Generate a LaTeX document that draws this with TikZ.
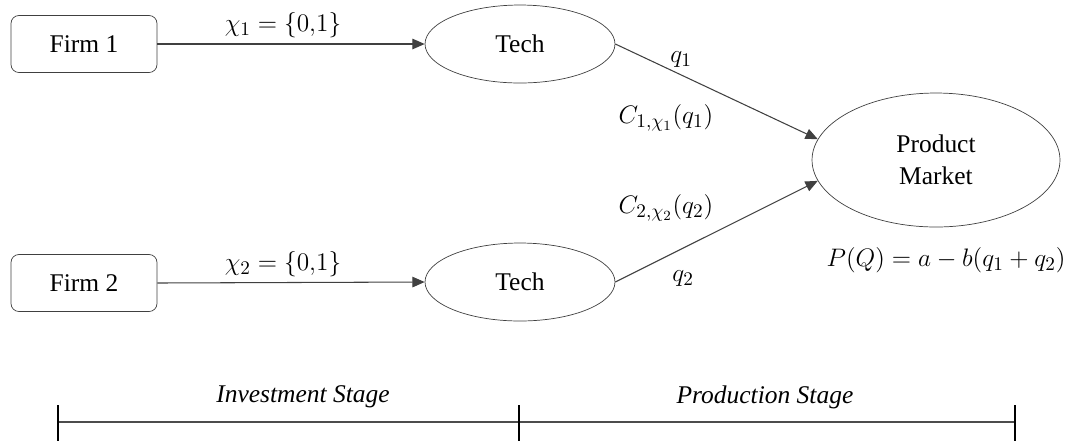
\documentclass[tikz,border=0pt]{standalone}
\usepackage{amsmath}
\usepackage{fontspec}
\setmainfont{Liberation Serif}
\usetikzlibrary{arrows.meta,positioning,shapes.geometric}
\newcommand{\xc}[1]{\chi_{#1}}
\tikzset{
  firmbox/.style={draw=black!75, rounded corners=4.5pt, minimum width=2.92cm, minimum height=1.14cm, inner sep=0pt, font=\fontsize{14.5}{17}\selectfont},
  techell/.style={ellipse, draw=black!75, minimum width=3.8cm, minimum height=1.56cm, inner sep=0pt, font=\fontsize{14.5}{17}\selectfont},
  mktell/.style={ellipse, draw=black!75, minimum width=4.96cm, minimum height=2.68cm, inner sep=0pt, align=center, font=\fontsize{14.5}{17}\selectfont},
  lbl/.style={inner sep=1pt, font=\fontsize{15.2}{18}\selectfont},
  stg/.style={inner sep=1pt, font=\fontsize{14.5}{17}\selectfont\itshape},
  flow/.style={draw=black!75, line width=0.6pt, -{Triangle[length=7pt,width=6pt]}},
}

\begin{document}
\begin{tikzpicture}[x=0.02cm, y=-0.02cm]
  \useasboundingbox (0,0) rectangle (1085,441);

  %% --- firms and technologies ---
  \node[firmbox] (firm1) at (84,44) {Firm 1};
  \node[firmbox] (firm2) at (84,283) {Firm 2};
  \node[techell] (tech1) at (520,44) {Tech};
  \node[techell] (tech2) at (520,282) {Tech};
  \node[mktell] (market) at (936,160) {Product\\[1.5pt]Market};

  % investment choices
  \draw[flow] (firm1.east) -- (tech1.west);
  \draw[flow] (firm2.east) -- (tech2.west);
  \node[lbl] (chi1) at (283,25) {$\xc{1} = \{0{,}1\}$};
  \node[lbl] (chi2) at (283,264) {$\xc{2} = \{0{,}1\}$};

  % quantities into the market
  \draw[flow] (tech1.east) -- (market.170);
  \draw[flow] (tech2.east) -- (market.190);
  \node[lbl] (q1) at (681,60) {$q_1$};
  \node[lbl] (cost1) at (666,118) {$C_{1,\xc{1}}(q_1)$};
  \node[lbl] (cost2) at (666,208) {$C_{2,\xc{2}}(q_2)$};
  \node[lbl] (q2) at (683,279) {$q_2$};
  \node[lbl] (price) at (946,260) {$P(Q) = a - b(q_1 + q_2)$};

  %% --- stages ---
  \coordinate (s0) at (58,422);
  \coordinate (s1) at (519,422);
  \coordinate (s2) at (1015,422);
  \draw[gray!60!black, line width=1pt] (s0) -- (s2);
  \foreach \p in {s0,s1,s2}
    \draw[black, line width=0.6pt] ([yshift=0.34cm]\p) -- ([yshift=-0.38cm]\p);
  \node[stg] (invest) at (303,397) {Investment Stage};
  \node[stg] (produce) at (765,397) {Production Stage};
\end{tikzpicture}
\end{document}
